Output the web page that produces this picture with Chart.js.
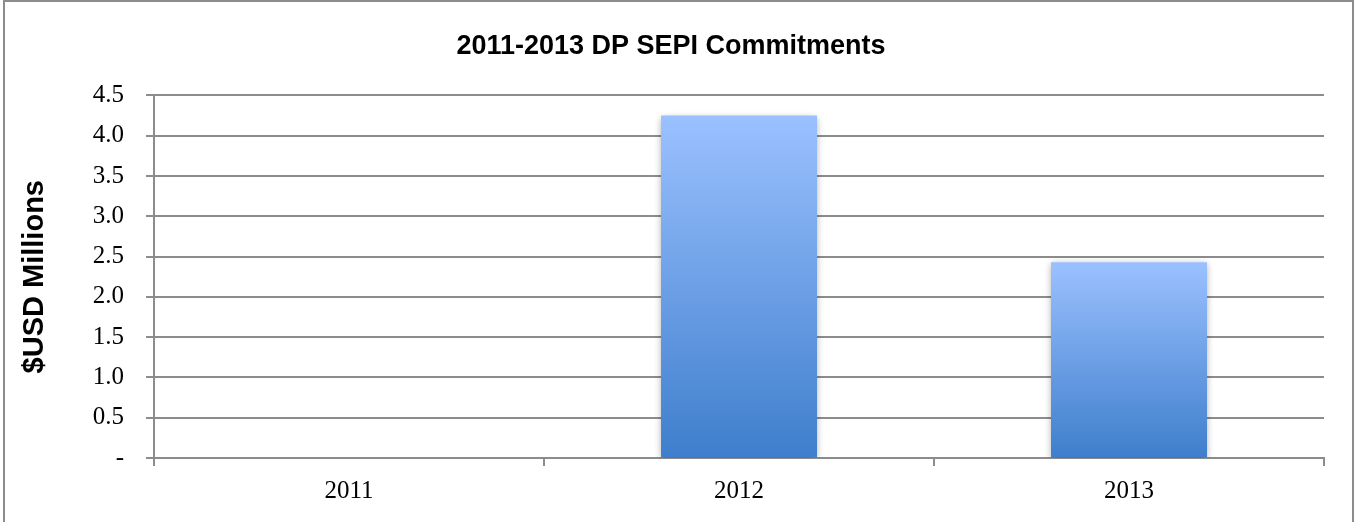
<!DOCTYPE html>
<html lang="en">
<head>
    <title>DP SEPI Commitments</title>
    <script src="https://cdn.jsdelivr.net/npm/chart.js@4.4.0/dist/chart.umd.min.js"></script>
    <style>
        body { margin: 0; background: #fff; }
        #wrap { width: 1355px; height: 522px; }
    </style>
</head>
<body>
<div id="wrap">
    <canvas id="commitChart" width="1355" height="522"></canvas>
</div>
<script>
// chart data
const years = ["2011", "2012", "2013"];
const commitments = [0, 4.25, 2.43];

const gridGrey = "#8c8c8c";

// frame around the whole picture, open at the bottom
const framePlugin = {
  id: "frame",
  afterDraw(chart) {
    const ctx = chart.ctx;
    ctx.save();
    ctx.strokeStyle = "#8c8c8c";
    ctx.lineWidth = 2;
    ctx.beginPath();
    ctx.moveTo(4, 530);
    ctx.lineTo(4, 1);
    ctx.lineTo(1353, 1);
    ctx.lineTo(1353, 530);
    ctx.stroke();
    ctx.restore();
  }
};

// soft drop shadow behind the bars
const shadowPlugin = {
  id: "barShadow",
  beforeDatasetsDraw(chart) {
    const ctx = chart.ctx;
    ctx.save();
    ctx.shadowColor = "rgba(0,0,0,0.35)";
    ctx.shadowBlur = 7;
    ctx.shadowOffsetX = 0;
    ctx.shadowOffsetY = 2;
  },
  afterDatasetsDraw(chart) {
    chart.ctx.restore();
  }
};

function barGradient(context) {
  const chart = context.chart;
  const yScale = chart.scales.y;
  if (!chart.chartArea || !yScale || context.parsed === undefined) {
    return "#6a9fe6";
  }
  const top = yScale.getPixelForValue(context.parsed.y);
  const bottom = yScale.getPixelForValue(0);
  if (!isFinite(top) || top === bottom) return "#6a9fe6";
  const g = chart.ctx.createLinearGradient(0, top, 0, bottom);
  g.addColorStop(0, "#9bc1ff");
  g.addColorStop(1, "#3e7ecc");
  return g;
}

const ctx = document.getElementById("commitChart").getContext("2d");
const commitChart = new Chart(ctx, {
  type: "bar",
  data: {
    labels: years,
    datasets: [{
      data: commitments,
      backgroundColor: barGradient,
      borderWidth: 0,
      categoryPercentage: 1.0,
      barPercentage: 0.4
    }]
  },
  plugins: [shadowPlugin, framePlugin],
  options: {
    responsive: false,
    animation: false,
    layout: {
      padding: { left: 18, right: 31, top: 0, bottom: 6 }
    },
    plugins: {
      legend: { display: false },
      tooltip: { enabled: false },
      title: {
        display: true,
        text: "2011-2013 DP SEPI Commitments",
        color: "#000",
        font: { family: "Liberation Sans", size: 27, weight: "bold" },
        padding: { top: 30, bottom: 33 }
      }
    },
    scales: {
      x: {
        offset: true,
        grid: {
          offset: true,
          drawOnChartArea: false,
          drawTicks: true,
          tickLength: 8,
          color: gridGrey,
          lineWidth: 2
        },
        border: { display: true, color: gridGrey, width: 2 },
        ticks: {
          color: "#000",
          padding: 10,
          font: { family: "Liberation Serif", size: 25 }
        }
      },
      y: {
        min: 0,
        max: 4.5,
        title: {
          display: true,
          text: "$USD Millions",
          color: "#000",
          font: { family: "Liberation Sans", size: 29, weight: "bold" },
          padding: { top: 0, bottom: 18 }
        },
        grid: {
          color: gridGrey,
          lineWidth: 2,
          drawTicks: true,
          tickLength: 8
        },
        border: { display: true, color: gridGrey, width: 2 },
        ticks: {
          stepSize: 0.5,
          color: "#000",
          padding: 22,
          font: { family: "Liberation Serif", size: 25 },
          callback: (v) => v === 0 ? "-" : v.toFixed(1)
        }
      }
    }
  }
});
</script>
</body>
</html>
